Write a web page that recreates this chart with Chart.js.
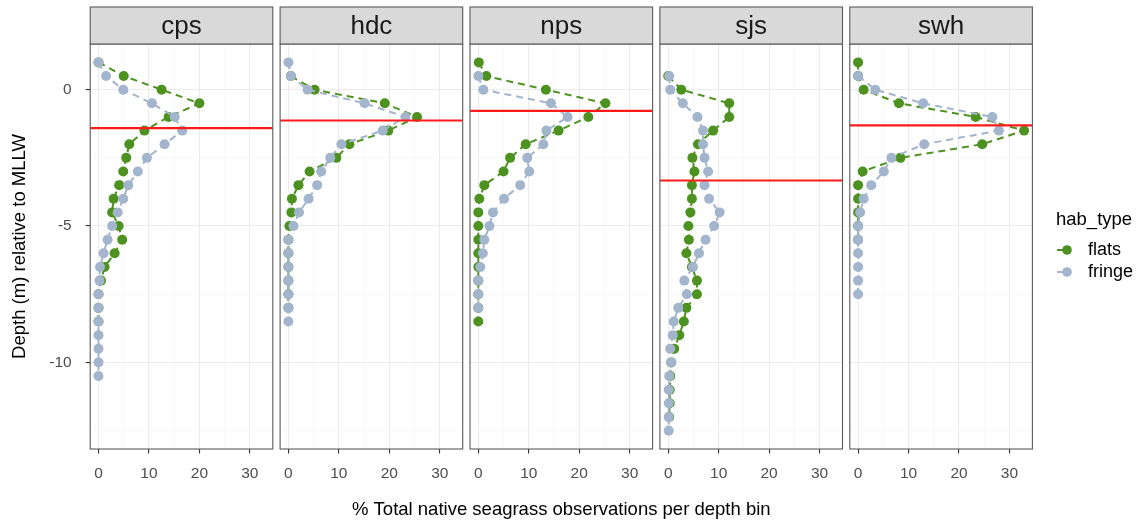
<!DOCTYPE html>
<html>
<head>
<meta charset="utf-8">
<script src="https://cdn.jsdelivr.net/npm/chart.js@4"></script>
<style>
  body { margin: 0; background: #fff; }
  #wrap { position: relative; width: 1142px; height: 524px; }
  #wrap canvas { position: absolute; left: 0; top: 0; }
</style>
</head>
<body>
<div id="wrap"></div>
<script>
// facets and depth bins (m relative to MLLW)
const sites = ['cps', 'hdc', 'nps', 'sjs', 'swh'];
const depthBins = [1, 0.5, 0, -0.5, -1, -1.5, -2, -2.5, -3, -3.5, -4, -4.5, -5, -5.5, -6,
  -6.5, -7, -7.5, -8, -8.5, -9, -9.5, -10, -10.5, -11, -11.5, -12, -12.5];

// % of observations per depth bin, one entry per depthBins item (null = no bin)
const cpsFlats  = [0, 5.0, 12.5, 20.0, 13.9, 9.1, 6.1, 5.5, 4.9, 4.1, 3.0, 2.7, 4.0, 4.7, 3.2, 1.2, 0.5, 0, 0, 0];
const cpsFringe = [0, 1.5, 4.9, 10.6, 15.1, 16.6, 13.1, 9.6, 7.8, 5.9, 4.9, 3.8, 2.7, 1.8, 1.0, 0.3, 0.2, 0, 0, 0, 0, 0, 0, 0];
const hdcFlats  = [null, 0.5, 5.2, 19.1, 25.5, 19.8, 12.1, 9.5, 4.2, 2.0, 0.7, 0.6, 0.2, 0, 0, 0, 0, 0, 0];
const hdcFringe = [0, 0.5, 3.8, 15.1, 23.2, 18.7, 10.5, 8.3, 6.5, 5.7, 4.0, 2.1, 1.0, 0, 0, 0, 0, 0, 0, 0];
const npsFlats  = [0.1, 1.6, 13.4, 25.2, 21.8, 15.9, 9.4, 6.3, 5.0, 1.2, 0.2, 0, 0, 0, 0, 0, 0, 0, 0, 0];
const npsFringe = [null, 0, 1.0, 14.4, 17.7, 13.5, 12.9, 9.7, 10.1, 8.3, 5.1, 2.9, 2.2, 1.2, 0.9, 0.4, 0, 0, 0];
const sjsFlats  = [null, 0, 2.6, 12.1, 12.1, 8.9, 5.9, 4.8, 5.2, 4.7, 4.7, 4.4, 4.0, 4.1, 3.6, 4.7, 5.7, 5.7, 3.6, 3.1, 2.2, 1.2, 0.6, 0.4, 0.3, 0.3, 0.2];
const sjsFringe = [null, 0.2, 0.4, 2.9, 5.8, 6.9, 6.9, 7.2, 7.9, 7.2, 8.1, 10.2, 9.1, 7.4, 6.1, 4.9, 3.2, 3.7, 2.0, 1.1, 0.9, 0.4, 0.6, 0.2, 0.1, 0.1, 0.1, 0.1];
const swhFlats  = [0, 0, 1.1, 8.1, 23.3, 32.9, 24.6, 8.4, 0.9, 0, 0, 0, 0, 0];
const swhFringe = [null, 0, 3.4, 12.9, 26.6, 27.9, 13.1, 6.6, 5.1, 2.6, 1.1, 0.4, 0, 0, 0, 0, 0, 0];

// red reference depth per site
const refDepth = [-1.41, -1.13, -0.78, -3.33, -1.31];

const xTicks = [0, 10, 20, 30];
const xMinor = [5, 15, 25];
const yTicks = [0, -5, -10];
const yMinor = [-2.5, -7.5, -12.5];

const flatsBySite = [cpsFlats, hdcFlats, npsFlats, sjsFlats, swhFlats];
const fringeBySite = [cpsFringe, hdcFringe, npsFringe, sjsFringe, swhFringe];

const FLATS = '#4d9221';
const FRINGE = '#a2b5cd';
const FONT = '"Liberation Sans", Arial, Helvetica, sans-serif';

Chart.defaults.font.family = FONT;

// ggplot-like expanded limits
const allVals = flatsBySite.concat(fringeBySite).flat().filter(v => v != null);
const xMax = Math.max(...allVals);
const xLim = [0 - 0.05 * xMax, xMax * 1.05];
const dTop = Math.max(...depthBins), dBot = Math.min(...depthBins);
const yLim = [dBot - 0.05 * (dTop - dBot), dTop + 0.05 * (dTop - dBot)];

function toPoints(arr) {
  return depthBins.map((d, i) => (arr[i] == null ? null : { x: arr[i], y: d })).filter(Boolean);
}

const W = 1142, H = 524;
const panelTop = 44, panelBottom = 449, panelW = 182.6;
const yAxisW = 81;

const stripAndBox = {
  id: 'stripAndBox',
  afterDraw(chart, args, opts) {
    const { ctx, chartArea: a, scales } = chart;
    ctx.save();
    // reference line
    const yy = scales.y.getPixelForValue(opts.ref);
    ctx.strokeStyle = '#ff1a1a';
    ctx.lineWidth = 2.2;
    ctx.beginPath();
    ctx.moveTo(a.left, yy);
    ctx.lineTo(a.right, yy);
    ctx.stroke();
    // panel border
    ctx.strokeStyle = '#5a5a5a';
    ctx.lineWidth = 1.1;
    ctx.strokeRect(a.left, a.top, a.right - a.left, a.bottom - a.top);
    // strip
    ctx.fillStyle = '#d9d9d9';
    ctx.fillRect(a.left, a.top - 37, a.right - a.left, 37);
    ctx.strokeRect(a.left, a.top - 37, a.right - a.left, 37);
    ctx.fillStyle = '#1a1a1a';
    ctx.font = '26px ' + FONT;
    ctx.textAlign = 'center';
    ctx.textBaseline = 'middle';
    ctx.fillText(opts.label, (a.left + a.right) / 2, a.top - 17);
    // shared x title under the middle panel
    if (opts.xTitle) {
      ctx.fillStyle = '#000';
      ctx.font = '18.5px ' + FONT;
      ctx.fillText(opts.xTitle, (a.left + a.right) / 2, 510);
    }
    ctx.restore();
  }
};

const legendPlugin = {
  id: 'habLegend',
  afterDraw(chart, args, opts) {
    if (!opts.show) return;
    const ctx = chart.ctx;
    ctx.save();
    ctx.fillStyle = '#000';
    ctx.textBaseline = 'middle';
    ctx.textAlign = 'left';
    ctx.font = '18.5px ' + FONT;
    ctx.fillText('hab_type', 1056, 220);
    [['flats', FLATS, 250], ['fringe', FRINGE, 272]].forEach(([txt, col, y]) => {
      ctx.strokeStyle = col;
      ctx.lineWidth = 2;
      ctx.beginPath();
      ctx.moveTo(1057, y);
      ctx.lineTo(1067, y);
      ctx.stroke();
      ctx.fillStyle = col;
      ctx.beginPath();
      ctx.arc(1067, y, 4.8, 0, Math.PI * 2);
      ctx.fill();
      ctx.fillStyle = '#000';
      ctx.font = '18px ' + FONT;
      ctx.fillText(txt, 1088, y);
    });
    ctx.restore();
  }
};

const wrap = document.getElementById('wrap');

sites.forEach((site, i) => {
  const left = 90.2 + 189.9 * i;
  const cv = document.createElement('canvas');
  cv.width = W; cv.height = H;
  cv.style.width = W + 'px'; cv.style.height = H + 'px';
  wrap.appendChild(cv);

  const first = i === 0;
  const isMajorX = v => xTicks.includes(v);
  const isMajorY = v => yTicks.includes(v);

  const series = (label, vals, col) => ({
    label: label,
    data: toPoints(vals),
    borderColor: col,
    backgroundColor: col,
    borderWidth: 2,
    borderDash: [7, 5],
    pointRadius: 5,
    pointBorderWidth: 0,
    pointBackgroundColor: col,
    tension: 0
  });

  new Chart(cv.getContext('2d'), {
    type: 'line',
    data: {
      datasets: [
        series('fringe', fringeBySite[i], FRINGE),
        series('flats', flatsBySite[i], FLATS)
      ]
    },
    options: {
      responsive: false,
      animation: false,
      devicePixelRatio: 1,
      layout: {
        padding: { left: left - yAxisW, right: W - left - panelW, top: panelTop, bottom: 0 }
      },
      plugins: {
        legend: { display: false },
        tooltip: { enabled: false },
        stripAndBox: {
          label: site,
          ref: refDepth[i],
          xTitle: i === 2 ? '% Total native seagrass observations per depth bin' : null
        },
        habLegend: { show: i === sites.length - 1 }
      },
      scales: {
        x: {
          type: 'linear',
          min: xLim[0],
          max: xLim[1],
          afterBuildTicks: s => { s.ticks = xTicks.concat(xMinor).sort((a, b) => a - b).map(v => ({ value: v })); },
          afterFit: s => { s.height = H - panelBottom; },
          border: { display: false },
          grid: {
            color: c => (isMajorX(c.tick.value) ? '#ebebeb' : '#f4f4f4'),
            lineWidth: c => (isMajorX(c.tick.value) ? 1.1 : 0.6),
            tickColor: c => (isMajorX(c.tick.value) ? '#333' : 'rgba(0,0,0,0)'),
            tickLength: 4.5
          },
          ticks: {
            autoSkip: false,
            maxRotation: 0,
            padding: 11,
            color: '#4d4d4d',
            font: { size: 15.5 },
            callback: v => (isMajorX(v) ? String(v) : '')
          }
        },
        y: {
          type: 'linear',
          min: yLim[0],
          max: yLim[1],
          afterBuildTicks: s => { s.ticks = yTicks.concat(yMinor).sort((a, b) => a - b).map(v => ({ value: v })); },
          afterFit: s => { s.width = yAxisW; },
          border: { display: false },
          grid: {
            color: c => (isMajorY(c.tick.value) ? '#ebebeb' : '#f4f4f4'),
            lineWidth: c => (isMajorY(c.tick.value) ? 1.1 : 0.6),
            tickColor: c => (first && isMajorY(c.tick.value) ? '#333' : 'rgba(0,0,0,0)'),
            tickLength: 4.5
          },
          ticks: {
            display: first,
            autoSkip: false,
            padding: 14,
            color: '#4d4d4d',
            font: { size: 15.5 },
            callback: v => (isMajorY(v) ? String(v) : '')
          },
          title: {
            display: first,
            text: 'Depth (m) relative to MLLW',
            color: '#000',
            font: { size: 18.5 },
            padding: 0
          }
        }
      }
    },
    plugins: [stripAndBox, legendPlugin]
  });
});
</script>
</body>
</html>
